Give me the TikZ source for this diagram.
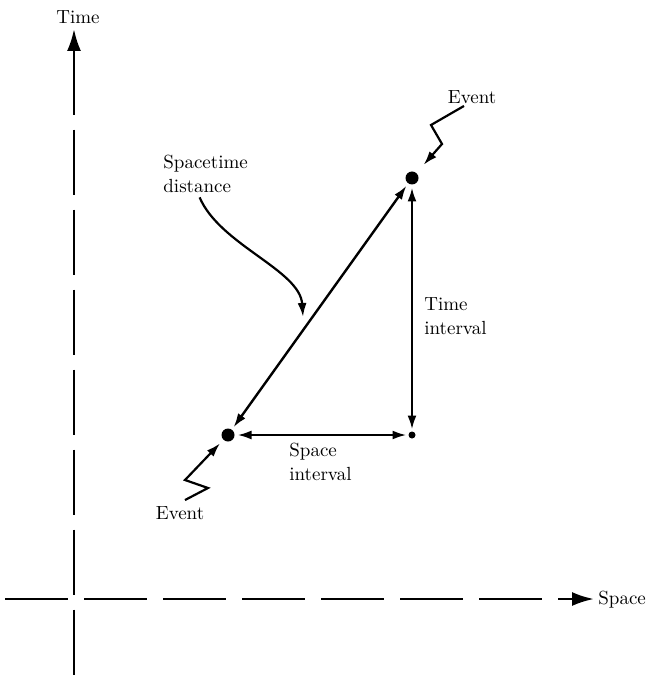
\documentclass[tikz,border=0pt]{standalone}
\usepackage{tikz}
\usetikzlibrary{arrows.meta,calc,positioning}

\begin{document}
\begin{tikzpicture}[
      x=0.5pt,y=-0.5pt,
      font=\fontsize{9.5}{12}\selectfont,
      >=Latex,
      lbl/.style={inner sep=0pt,align=left},
      dot/.style={circle,fill=black,inner sep=0pt,minimum size=6.5pt,outer sep=1.5pt},
      smalldot/.style={circle,fill=black,inner sep=0pt,minimum size=3.5pt,outer sep=1pt},
      axis/.style={line width=1.3pt,dash pattern=on 31.5pt off 8pt},
      bigtip/.style={-{Latex[length=11pt,width=7pt]}},
      dbl/.style={{Latex[length=7pt,width=4.5pt]}-{Latex[length=7pt,width=4.5pt]},line width=1.2pt},
      arr/.style={-{Latex[length=7pt,width=4.5pt]},line width=1.1pt}
    ]
      \useasboundingbox (0,0) rectangle (656,678);

      % axes
      \node[lbl] (tlbl) at (78,17) {Time};
      \node[lbl,anchor=west] (slbl) at (598,600) {Space};
      \coordinate (ttop) at (74,29);
      \coordinate (tbot) at (74,677);
      \coordinate (sleft) at (5,599);
      \draw[axis,{Latex[length=11pt,width=7pt]}-,dash pattern=on 32.5pt off 7.5pt] (ttop) -- (tbot);
      \draw[axis,bigtip,shorten >=2pt] (sleft) -- (sleft -| slbl.west);

      % events
      \node[dot] (ev1) at (228,435) {};
      \node[dot] (ev2) at (412,178) {};
      \node[smalldot] (corner) at (412,435) {};

      \draw[dbl] (ev1) -- (ev2);
      \draw[dbl] (corner) -- (ev2);
      \draw[dbl] (ev1) -- (corner);

      % labels
      \node[lbl] (evtop) at (472,97) {Event};
      \node[lbl] (evbot) at (180,513) {Event};
      \node[lbl,anchor=north west] (stlbl) at (163,155) {Spacetime\\distance};
      \node[lbl,anchor=west] (tilbl) at (424,316) {Time\\interval};
      \node[lbl,anchor=west] (silbl) at (289,462) {Space\\interval};
      \coordinate (stpt) at (303,317);

      \draw[arr,shorten >=4pt] ([xshift=-4pt,yshift=-1pt]evtop.south) -- (431,125) -- (442,144) -- (ev2);
      \draw[arr,shorten >=1pt] ([xshift=2.5pt,yshift=3pt]evbot.north) -- (208,488) -- (185,480) -- (ev1);
      \draw[arr] ([xshift=-3pt,yshift=-2pt]stlbl.south) .. controls (220,245) and (300,270) .. (stpt);
    \end{tikzpicture}
\end{document}
